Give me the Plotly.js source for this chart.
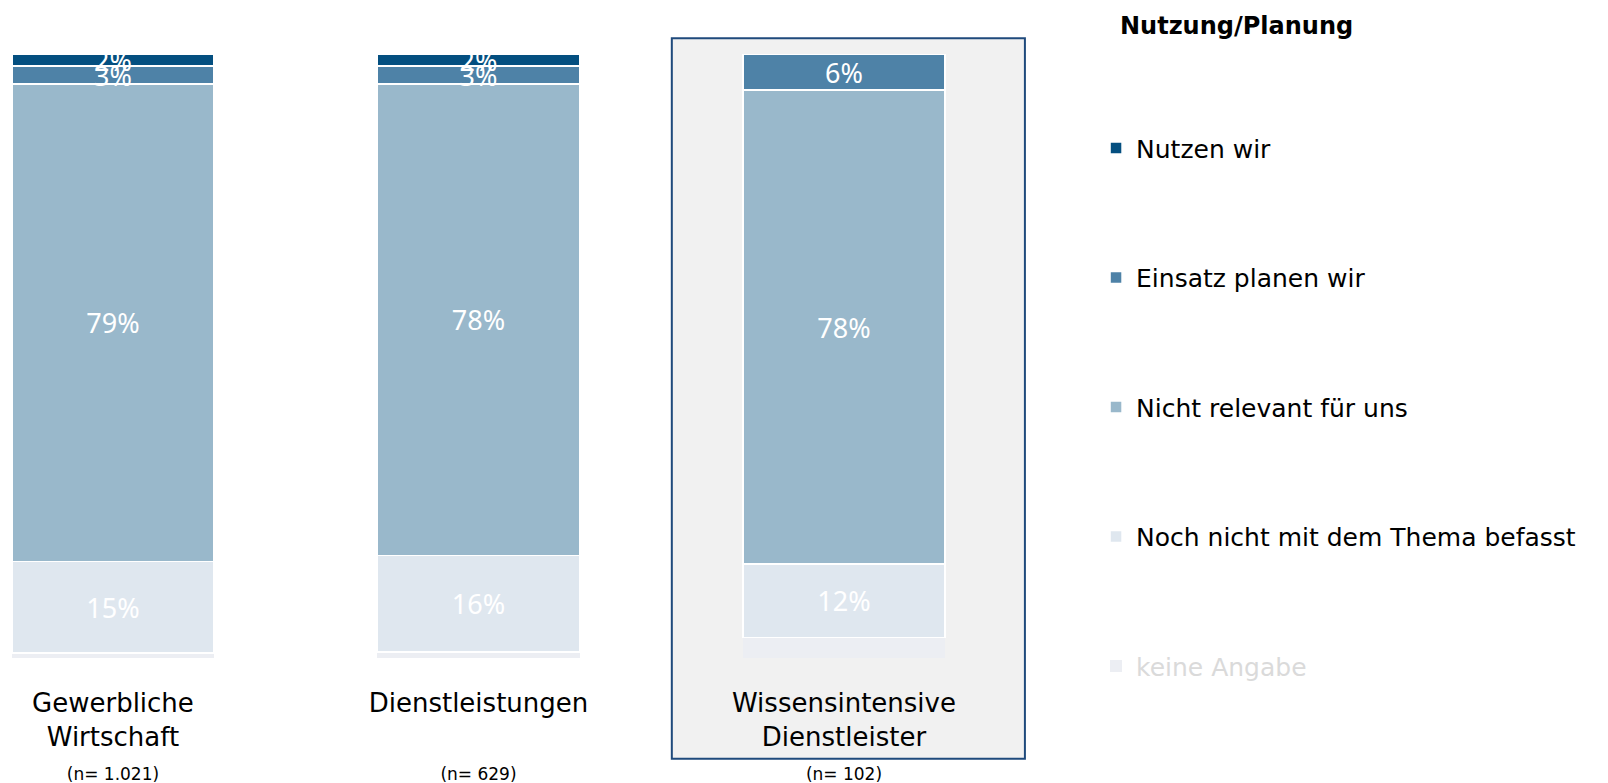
<!DOCTYPE html>
<html>
<head>
<meta charset="utf-8">
<script src="https://cdn.plot.ly/plotly-3.0.1.min.js"></script>
<style>html,body{margin:0;padding:0;background:#fff;}#chart{width:1608px;height:783px;}</style>
</head>
<body>
<div id="chart"></div>
<script>
const categories = ["Gewerbliche Wirtschaft", "Dienstleistungen", "Wissensintensive Dienstleister"];
const tickLabels = [
  "Gewerbliche<br>Wirtschaft<br><span style='font-size:17px'>(n= 1.021)</span>",
  "Dienstleistungen<br>&nbsp;<br><span style='font-size:17px'>(n= 629)</span>",
  "Wissensintensive<br>Dienstleister<br><span style='font-size:17px'>(n= 102)</span>"
];
const seriesNames = ["keine Angabe", "Noch nicht mit dem Thema befasst", "Nicht relevant für uns", "Einsatz planen wir", "Nutzen wir"];
const keineAngabe = [0.8, 1.0, 3.4];
const nochNicht = [15.2, 16.0, 12.2];
const nichtRelevant = [79.0, 78.0, 78.4];
const einsatzPlanen = [3.0, 3.0, 6.0];
const nutzenWir = [2.0, 2.0, 0];

const seriesValues = [keineAngabe, nochNicht, nichtRelevant, einsatzPlanen, nutzenWir];
const colors = ["#eceef3", "#dfe7ef", "#99b8cb", "#4e82a7", "#044f80"];
const lineWidths = [0, 1.5, 1.5, 1.5, 1.5];
const showLabels = [false, true, true, true, true];
const xIdx = [0, 1, 2];

const FONT = "Noto Sans, Open Sans, sans-serif";
const FONT2 = "DejaVu Sans, Noto Sans, sans-serif";

const traces = seriesValues.map((vals, i) => ({
  type: "bar",
  x: xIdx,
  y: vals,
  name: i === 0 ? "<span style='color:#dadada'>" + seriesNames[i] + "</span>" : seriesNames[i],
  legendgroup: "g" + i,
  legendrank: 100 - i,
  marker: { color: colors[i], line: { color: "#ffffff", width: lineWidths[i] } },
  width: 0.553,
  text: vals.map(v => (showLabels[i] && v > 0) ? Math.round(v) + "%" : ""),
  textposition: "inside",
  insidetextanchor: "middle",
  textangle: 0,
  constraintext: "none",
  cliponaxis: false,
  textfont: { color: "#ffffff", size: 27, family: FONT },
  hoverinfo: "skip"
}));

const layout = {
  width: 1608,
  height: 783,
  margin: { l: 0, r: 548, t: 54, b: 125 },
  paper_bgcolor: "#ffffff",
  plot_bgcolor: "rgba(0,0,0,0)",
  barmode: "stack",
  font: { family: FONT2, color: "#000000" },
  xaxis: {
    range: [-0.309, 2.591],
    tickvals: xIdx,
    ticktext: tickLabels,
    tickfont: { size: 26, family: FONT2, color: "#000000" },
    ticklabelstandoff: 27,
    showgrid: false, zeroline: false, showline: false, ticks: "",
    fixedrange: true
  },
  yaxis: {
    range: [0, 100],
    visible: false,
    fixedrange: true
  },
  showlegend: true,
  legend: {
    x: 1.034, xanchor: "left",
    y: 0.882, yanchor: "top",
    traceorder: "grouped",
    tracegroupgap: 94,
    font: { size: 25, family: FONT2, color: "#000000" },
    bgcolor: "rgba(0,0,0,0)"
  },
  shapes: [{
    type: "rect", layer: "below",
    xref: "x", yref: "paper",
    x0: 1.529, x1: 2.495,
    y0: -0.167, y1: 1.026,
    fillcolor: "#f1f1f1",
    line: { color: "#1f4a7c", width: 2 }
  }],
  annotations: [{
    text: "<b>Nutzung/Planung</b>",
    xref: "paper", yref: "paper",
    x: 1118 / 1060, xanchor: "left",
    y: (658 - 26) / 604, yanchor: "middle",
    showarrow: false,
    font: { size: 24, family: FONT2, color: "#000000" }
  }]
};

Plotly.newPlot("chart", traces, layout, { displayModeBar: false, staticPlot: true });
</script>
</body>
</html>
